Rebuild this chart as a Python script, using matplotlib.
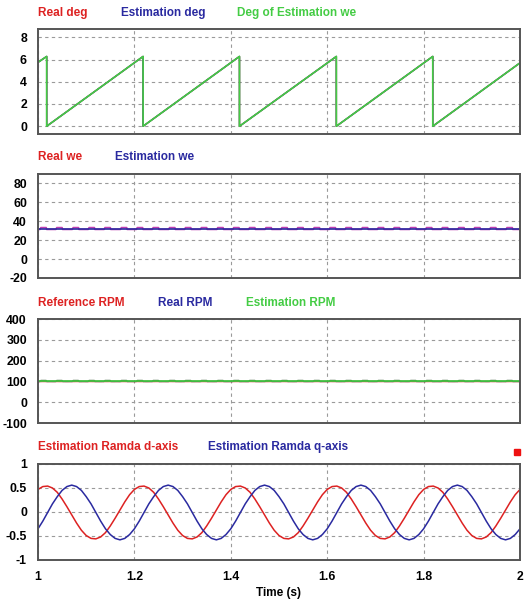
import numpy as np
import matplotlib
matplotlib.use("Agg")
import matplotlib.pyplot as plt
from matplotlib.patches import Rectangle

plt.rcParams['font.family'] = ['Liberation Sans', 'DejaVu Sans']
plt.rcParams['font.weight'] = 'bold'
plt.rcParams['axes.unicode_minus'] = False

RED = '#dd2222'
BLUE = '#2a2aa0'
GREEN = '#44cc44'
GRID = '#9a9a9a'

# ---- panel 1: rotor angle (rad), sawtooth breakpoints
deg_time = [1.0, 1.018, 1.018, 1.218, 1.218, 1.418, 1.418, 1.619, 1.619, 1.819, 1.819, 2.0]
deg_value = [5.75, 6.28, 0.0, 6.28, 0.0, 6.28, 0.0, 6.28, 0.0, 6.28, 0.0, 5.7]

# ---- panel 2: electrical speed (rad/s)
we_level = 31.4
we_ripple_peak = 33.3
# start times of the small ripples on the real speed trace
ripple_start = [1.004, 1.037, 1.071, 1.104, 1.137, 1.171, 1.204, 1.237, 1.271, 1.304,
                1.337, 1.371, 1.404, 1.437, 1.471, 1.504, 1.537, 1.571, 1.604, 1.637,
                1.671, 1.704, 1.737, 1.771, 1.804, 1.837, 1.871, 1.904, 1.937, 1.971]
ripple_len = 0.013

# ---- panel 3: speed (RPM)
rpm_ref = 100.0
rpm_ripple_peak = 104.0

# ---- panel 4: flux (sampled every 10 ms from 1.00 s to 2.00 s)
lam_time = np.linspace(1.0, 2.0, 101)
lam_d = [0.47, 0.53, 0.54, 0.50, 0.41, 0.27, 0.11, -0.06, -0.23, -0.38,
         -0.49, -0.55, -0.56, -0.52, -0.43, -0.29, -0.13, 0.04, 0.21, 0.36,
         0.47, 0.53, 0.54, 0.50, 0.41, 0.27, 0.11, -0.06, -0.23, -0.38,
         -0.49, -0.55, -0.56, -0.52, -0.43, -0.29, -0.13, 0.04, 0.21, 0.36,
         0.47, 0.53, 0.54, 0.50, 0.41, 0.27, 0.11, -0.06, -0.23, -0.38,
         -0.49, -0.55, -0.56, -0.52, -0.43, -0.29, -0.13, 0.04, 0.21, 0.36,
         0.47, 0.53, 0.54, 0.50, 0.41, 0.27, 0.11, -0.06, -0.23, -0.38,
         -0.49, -0.55, -0.56, -0.52, -0.43, -0.29, -0.13, 0.04, 0.21, 0.36,
         0.47, 0.53, 0.54, 0.50, 0.41, 0.27, 0.11, -0.06, -0.23, -0.38,
         -0.49, -0.55, -0.56, -0.52, -0.43, -0.29, -0.13, 0.04, 0.21, 0.36,
         0.47]
lam_q = [-0.35, -0.19, -0.01, 0.17, 0.32, 0.45, 0.53, 0.56, 0.53, 0.45,
         0.32, 0.17, -0.01, -0.19, -0.35, -0.47, -0.55, -0.58, -0.55, -0.47,
         -0.35, -0.19, -0.01, 0.17, 0.32, 0.45, 0.53, 0.56, 0.53, 0.45,
         0.32, 0.17, -0.01, -0.19, -0.35, -0.47, -0.55, -0.58, -0.55, -0.47,
         -0.35, -0.19, -0.01, 0.17, 0.32, 0.45, 0.53, 0.56, 0.53, 0.45,
         0.32, 0.17, -0.01, -0.19, -0.35, -0.47, -0.55, -0.58, -0.55, -0.47,
         -0.35, -0.19, -0.01, 0.17, 0.32, 0.45, 0.53, 0.56, 0.53, 0.45,
         0.32, 0.17, -0.01, -0.19, -0.35, -0.47, -0.55, -0.58, -0.55, -0.47,
         -0.35, -0.19, -0.01, 0.17, 0.32, 0.45, 0.53, 0.56, 0.53, 0.45,
         0.32, 0.17, -0.01, -0.19, -0.35, -0.47, -0.55, -0.58, -0.55, -0.47,
         -0.35]

x_ticks = [1, 1.2, 1.4, 1.6, 1.8, 2]
x_tick_labels = ['1', '1.2', '1.4', '1.6', '1.8', '2']


def ripple_trace(level, peak):
    """Flat trace with short raised segments at each ripple start."""
    xs, ys = [1.0], [level]
    for s in ripple_start:
        xs += [s, s + 0.002, s + ripple_len, s + ripple_len + 0.001]
        ys += [level, peak, peak, level]
    xs.append(2.0)
    ys.append(level)
    return xs, ys


W, H = 529, 601
fig = plt.figure(figsize=(W / 100, H / 100), dpi=100)


def make_axes(top, bottom):
    ax = fig.add_axes([38 / W, 1 - bottom / H, (520 - 38) / W, (bottom - top) / H])
    ax.set_xlim(1, 2)
    ax.set_xticks(x_ticks)
    ax.tick_params(length=0, pad=8, labelsize=8.8)
    ax.grid(True, color=GRID, linestyle=(0, (3, 3)), linewidth=0.8)
    for sp in ax.spines.values():
        sp.set_color('#555555')
        sp.set_linewidth(1.4)
    return ax


def labels(y, items):
    for x, txt, col in items:
        fig.text(x / W, 1 - y / H, txt, color=col, fontsize=8.5,
                 fontweight='bold', va='center', ha='left')


# panel 1
ax1 = make_axes(29, 134)
ax1.plot(deg_time, deg_value, color=RED, lw=1)
ax1.plot(deg_time, deg_value, color=BLUE, lw=1)
ax1.plot(deg_time, deg_value, color=GREEN, lw=1.2)
ax1.set_ylim(-0.7, 8.75)
ax1.set_yticks([0, 2, 4, 6, 8])
ax1.set_xticklabels([])
labels(13, [(38, 'Real deg', RED), (121, 'Estimation deg', BLUE),
            (237, 'Deg of Estimation we', GREEN)])

# panel 2
ax2 = make_axes(174, 278)
rx, ry = ripple_trace(we_level, we_ripple_peak)
ax2.plot(rx, ry, color='#c040b0', lw=1.2)
ax2.plot([1, 2], [we_level, we_level], color=BLUE, lw=1.2)
ax2.set_ylim(-20, 90)
ax2.set_yticks([-20, 0, 20, 40, 60, 80])
ax2.set_xticklabels([])
labels(157, [(38, 'Real we', RED), (115, 'Estimation we', BLUE)])

# panel 3
ax3 = make_axes(319, 423)
bx, by = ripple_trace(rpm_ref, rpm_ripple_peak)
ax3.plot([1, 2], [rpm_ref, rpm_ref], color=RED, lw=1)
ax3.plot(bx, by, color='#335533', lw=1.1)
ax3.plot([1, 2], [rpm_ref, rpm_ref], color=GREEN, lw=1.2)
ax3.set_ylim(-100, 400)
ax3.set_yticks([-100, 0, 100, 200, 300, 400])
ax3.set_xticklabels([])
labels(302.5, [(38, 'Reference RPM', RED), (158, 'Real RPM', BLUE),
               (246, 'Estimation RPM', GREEN)])

# panel 4
ax4 = make_axes(464, 560)
ax4.plot(lam_time, lam_d, color=RED, lw=1.1)
ax4.plot(lam_time, lam_q, color=BLUE, lw=1.1)
ax4.set_ylim(-1, 1)
ax4.set_yticks([-1, -0.5, 0, 0.5, 1])
ax4.set_yticklabels(['-1', '-0.5', '0', '0.5', '1'])
ax4.set_xticklabels(x_tick_labels)
ax4.set_xlabel('Time (s)', fontsize=8.5, fontweight='bold', labelpad=3)
labels(447, [(38, 'Estimation Ramda d-axis', RED), (208, 'Estimation Ramda q-axis', BLUE)])

fig.patches.append(Rectangle((514 / W, 1 - 455 / H), 6 / W, 6 / H,
                             transform=fig.transFigure, color='#ee1111'))

fig.savefig('out.png', dpi=100)
